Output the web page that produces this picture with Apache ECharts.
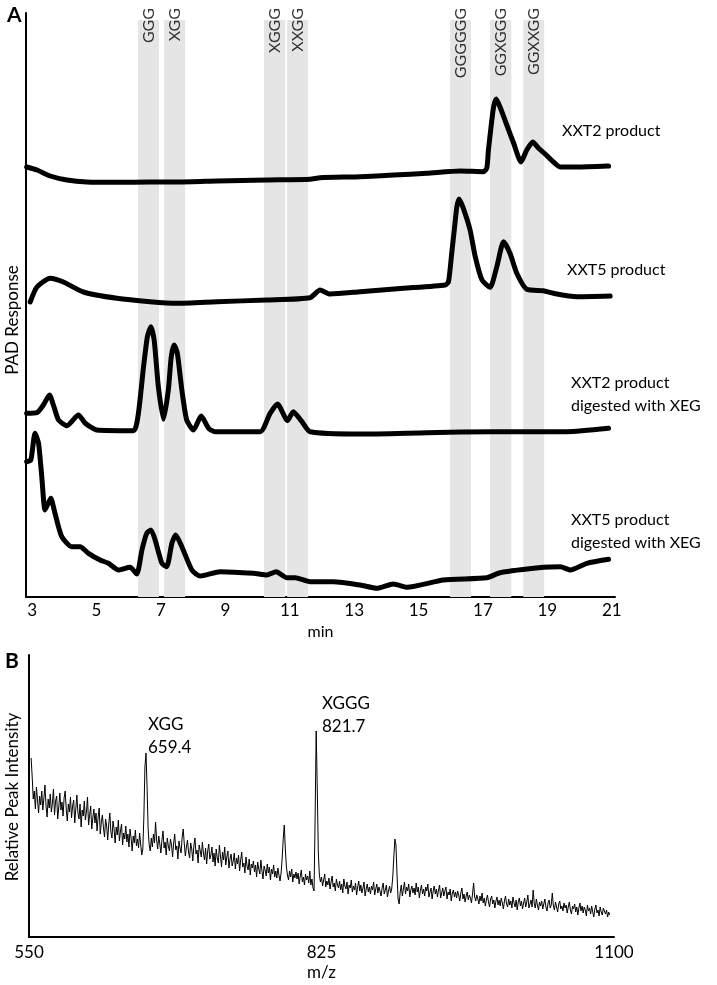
<!DOCTYPE html>
<html>
<head>
<meta charset="utf-8">
<script src="https://cdn.jsdelivr.net/npm/echarts@6/dist/echarts.min.js"></script>
<style>html,body{margin:0;padding:0;background:#fff}#c{width:717px;height:985px}</style>
</head>
<body>
<div id="c"></div>
<script>
// ---------- Panel A: HPAEC-PAD chromatograms (PAD response, arbitrary units) ----------
const bandNames = ['GGG', 'XGG', 'XGGG', 'XXGG', 'GGGGGG', 'GGXGGG', 'GGXXGG'];
const bandStart = [6.29, 7.10, 10.20, 10.92, 15.98, 17.22, 18.25];
const bandEnd   = [6.94, 7.75, 10.86, 11.57, 16.63, 17.88, 18.90];
const xTicksA = [3, 5, 7, 9, 11, 13, 15, 17, 19, 21];

const xxt2Time = [2.83,3.15,3.56,4.08,4.70,5.63,6.66,7.60,8.74,10.29,11.63,11.94,13.19,14.22,15.26,16.29,17.02,17.12,17.17,17.25,17.33,17.41,17.53,17.74,17.95,18.18,18.36,18.55,18.72,18.93,19.19,19.40,19.91,20.90];
const xxt2Resp = [430,427,421,417,415,414.7,415,415,416,417,417.7,419.3,420.3,422,423.7,426,425.3,429,447,470,490,498,490,472,454,435,447,455,449,443,435,430,430,431];

const xxt5Time = [2.94,3.15,3.56,3.97,4.59,5.63,6.66,7.49,8.74,10.29,11.63,11.94,12.25,13.19,14.53,15.83,15.93,16.03,16.12,16.19,16.26,16.39,16.60,16.76,16.97,17.22,17.43,17.64,17.84,18.05,18.36,18.88,19.19,19.91,20.95];
const xxt5Resp = [295,310,318.7,315,305,298.7,295.3,293.7,295.3,297,299.3,307,303,305.3,308.7,312,315.3,343.7,370.3,390.3,398,388.7,367,340.3,317,309.7,330.3,355.3,343.7,323.7,307.7,306.3,303.7,300.3,301];

const xxt2XegTime = [2.83,3.15,3.35,3.54,3.66,3.82,4.08,4.44,4.65,5.01,6.15,6.30,6.46,6.58,6.69,6.79,6.92,7.08,7.23,7.32,7.41,7.51,7.65,7.80,8.01,8.25,8.48,8.68,10.08,10.39,10.62,10.93,11.11,11.38,11.63,13.19,15.26,17.33,19.61,20.90];
const xxt2XegResp = [183.7,184.3,192,202,192,177,171.3,182,173.7,167,166.3,183.7,230.3,260.3,270.3,257,210.3,177.7,207,240.3,252,243.7,207,177,167,181,168.7,165.3,165.3,183.7,193,176.3,185.3,175.3,165.3,163,164.3,165.3,165.3,168.7];

const xxt5XegTime = [2.83,2.96,3.09,3.20,3.30,3.40,3.51,3.58,3.71,3.92,4.23,4.49,4.75,5.11,5.37,5.68,6.04,6.25,6.41,6.56,6.69,6.82,7.03,7.18,7.34,7.46,7.65,7.96,8.22,8.84,9.87,10.29,10.58,10.91,11.17,11.63,12.36,13.19,13.70,14.22,14.64,15.77,17.12,17.53,18.88,19.40,19.71,20.23,20.90];
const xxt5XegResp = [135.3,137,163.7,153.7,120.3,87,94.3,98.7,83.7,60.3,50.3,50.3,43.7,37,33.7,27,29.7,23,47,63.7,67,57,33.7,30.3,53.7,62,50.3,27,21,25.3,23.7,22,25.3,19.3,19.3,15.3,15.3,12,8.7,13,9.7,17,19.3,24.3,29.7,30.3,27,33.7,37.7];

const traceLabelsA = ['XXT2 product', 'XXT5 product', 'XXT2 product\ndigested with XEG', 'XXT5 product\ndigested with XEG'];

// ---------- Panel B: mass spectrum (relative peak intensity, arbitrary units), m/z 552..1096 step 1 ----------
const mzStart = 552, mzStep = 1;
const intensity = [
  179,160,138,146,128,150,137,124,141,132,
  146,127,139,152,131,120,138,129,143,125,
  134,148,122,136,141,118,130,144,127,135,
  121,139,146,128,116,133,125,140,119,131,
  137,114,128,142,124,118,133,110,127,121,
  136,117,125,140,112,122,131,108,119,128,
  114,124,106,120,129,103,115,122,109,100,
  118,111,97,113,124,105,99,116,108,94,
  110,102,117,96,106,113,92,104,98,111,
  95,103,90,108,99,86,101,94,107,91,
  98,89,104,93,82,88,120,170,184,150,
  108,92,86,99,90,103,94,115,97,88,
  101,93,84,97,106,89,95,82,99,91,
  86,98,92,80,94,103,87,91,78,96,
  89,84,100,108,93,81,90,97,85,79,
  94,88,76,91,99,83,87,74,92,86,
  80,95,84,77,89,73,86,93,78,82,
  90,75,84,71,88,79,74,92,81,70,
  85,77,90,72,80,86,69,78,83,71,
  76,84,68,79,73,82,66,77,85,70,
  74,64,80,71,67,78,62,73,69,76,
  65,72,60,75,68,63,77,66,58,71,
  67,61,73,64,70,57,68,63,72,60,
  66,59,69,62,56,64,78,98,112,88,
  70,62,57,66,60,68,55,63,59,65,
  58,64,53,61,67,55,60,52,63,57,
  61,54,66,52,58,49,46,120,206,150,
  85,62,55,60,51,57,63,50,56,52,
  59,48,55,61,50,54,46,58,52,49,
  56,47,53,44,58,51,48,55,43,52,
  49,57,45,51,47,54,42,50,56,46,
  52,44,49,55,41,48,53,45,50,43,
  51,47,55,42,48,53,44,50,46,41,
  49,54,43,47,52,40,46,51,44,48,
  60,80,98,92,62,38,33,45,52,41,
  48,55,43,50,46,53,40,47,51,44,
  49,42,54,45,50,39,47,52,43,48,
  41,50,46,53,40,45,49,38,46,51,
  43,48,40,47,52,39,44,49,41,46,
  50,38,45,42,48,36,44,47,40,45,
  39,46,42,36,44,49,38,43,35,41,
  45,37,42,39,34,43,54,40,36,42,
  38,33,41,36,44,34,39,31,37,42,
  35,30,38,41,33,37,29,36,40,32,
  37,31,39,34,28,36,41,33,30,38,
  32,36,29,40,34,30,37,27,35,39,
  31,36,28,34,39,30,35,42,29,33,
  37,30,47,34,29,38,32,27,35,31,
  36,28,33,38,30,26,34,37,29,32,
  44,31,27,35,30,25,33,36,28,31,
  26,34,29,32,24,30,35,27,23,31,
  28,33,25,30,22,29,34,26,31,24,
  30,27,21,32,26,29,23,31,25,20,
  28,32,24,27,21,30,25,22,29,26,
  23,27,20,25,22
];
const peakNotes = [['XGG', '659.4'], ['XGGG', '821.7']];

// ---------- build ----------
const FONT = 'Lato, "Noto Sans", sans-serif';
const INK = '#000';
const pair = (t, v) => t.map((x, i) => [x, v[i]]);
const spectrum = intensity.map((v, i) => [mzStart + mzStep * i, v]);
const bands = bandNames.map((n, i) => [{ xAxis: bandStart[i], yAxis: 0 }, { xAxis: bandEnd[i], yAxis: 577 }]);
const bandLabelData = bandNames.map((n, i) => ({ value: [(bandStart[i] + bandEnd[i]) / 2, 589], name: n }));

const traceStyle = { color: '#000', width: 5, cap: 'round', join: 'round' };
function trace(name, data) {
  return { name, type: 'line', xAxisIndex: 0, yAxisIndex: 0, data, showSymbol: false, symbol: 'none',
    smooth: 0.2, lineStyle: traceStyle, z: 5, silent: true, animation: false };
}

const chart = echarts.init(document.getElementById('c'), null, { renderer: 'canvas' });
const txt = (x, y, text, extra) => ({ type: 'text', x, y, silent: true,
  style: Object.assign({ text, font: '16px ' + FONT, fill: INK, align: 'left', verticalAlign: 'middle', lineHeight: 23 }, extra || {}) });

chart.setOption({
  animation: false,
  backgroundColor: '#fff',
  grid: [
    { left: 26, right: 102, top: 13, bottom: 388 },
    { left: 29, right: 103, top: 655, bottom: 48 }
  ],
  xAxis: [
    { type: 'value', gridIndex: 0, min: 2.81, max: 21.1,
      axisLine: { show: true, lineStyle: { color: '#000', width: 2 } },
      axisTick: { show: false }, splitLine: { show: false },
      axisLabel: { customValues: xTicksA, color: INK, fontSize: 17, fontFamily: FONT, margin: 5 },
      name: 'min', nameLocation: 'middle', nameGap: 22, nameTextStyle: { color: INK, fontSize: 16, fontFamily: FONT } },
    { type: 'value', gridIndex: 1, min: 550, max: 1100, interval: 275,
      axisLine: { show: true, lineStyle: { color: '#000', width: 2 } },
      axisTick: { show: false }, splitLine: { show: false },
      axisLabel: { color: INK, fontSize: 17, fontFamily: FONT, margin: 7, formatter: v => String(v) },
      name: 'm/z', nameLocation: 'middle', nameGap: 27, nameTextStyle: { color: INK, fontSize: 17, fontFamily: FONT } }
  ],
  yAxis: [
    { type: 'value', gridIndex: 0, min: 0, max: 584,
      axisLine: { show: true, lineStyle: { color: '#000', width: 2 } },
      axisTick: { show: false }, axisLabel: { show: false }, splitLine: { show: false } },
    { type: 'value', gridIndex: 1, min: 0, max: 282,
      axisLine: { show: true, lineStyle: { color: '#000', width: 2 } },
      axisTick: { show: false }, axisLabel: { show: false }, splitLine: { show: false } }
  ],
  series: [
    { type: 'line', xAxisIndex: 0, yAxisIndex: 0, data: [], z: 1, silent: true,
      markArea: { silent: true, itemStyle: { color: '#e5e5e5' }, data: bands } },
    { type: 'scatter', xAxisIndex: 0, yAxisIndex: 0, data: bandLabelData, symbolSize: 0, clip: false, z: 6, silent: true,
      label: { show: true, position: 'inside', rotate: 90, align: 'right', verticalAlign: 'middle',
        formatter: p => p.name, color: INK, fontSize: 16, fontFamily: FONT } },
    trace('XXT2 product', pair(xxt2Time, xxt2Resp)),
    trace('XXT5 product', pair(xxt5Time, xxt5Resp)),
    trace('XXT2 product digested with XEG', pair(xxt2XegTime, xxt2XegResp)),
    trace('XXT5 product digested with XEG', pair(xxt5XegTime, xxt5XegResp)),
    { name: 'MS', type: 'line', xAxisIndex: 1, yAxisIndex: 1, data: spectrum, showSymbol: false, symbol: 'none',
      lineStyle: { color: '#000', width: 1 }, silent: true, z: 5 }
  ],
  graphic: [
    txt(7, 15, 'A', { font: 'bold 21px ' + FONT }),
    txt(5, 661, 'B', { font: 'bold 21px ' + FONT }),
    { type: 'text', x: 13, y: 320, rotation: Math.PI / 2, silent: true,
      style: { text: 'PAD Response', font: '17px ' + FONT, fill: INK, align: 'center', verticalAlign: 'middle' } },
    { type: 'text', x: 13, y: 797, rotation: Math.PI / 2, silent: true,
      style: { text: 'Relative Peak Intensity', font: '17px ' + FONT, fill: INK, align: 'center', verticalAlign: 'middle' } },
    txt(562, 131, traceLabelsA[0]),
    txt(567, 270, traceLabelsA[1]),
    txt(571, 394, traceLabelsA[2]),
    txt(571, 531, traceLabelsA[3]),
    txt(148, 736, peakNotes[0].join('\n'), { font: '17px ' + FONT }),
    txt(322, 715, peakNotes[1].join('\n'), { font: '17px ' + FONT })
  ]
});
</script>
</body>
</html>
